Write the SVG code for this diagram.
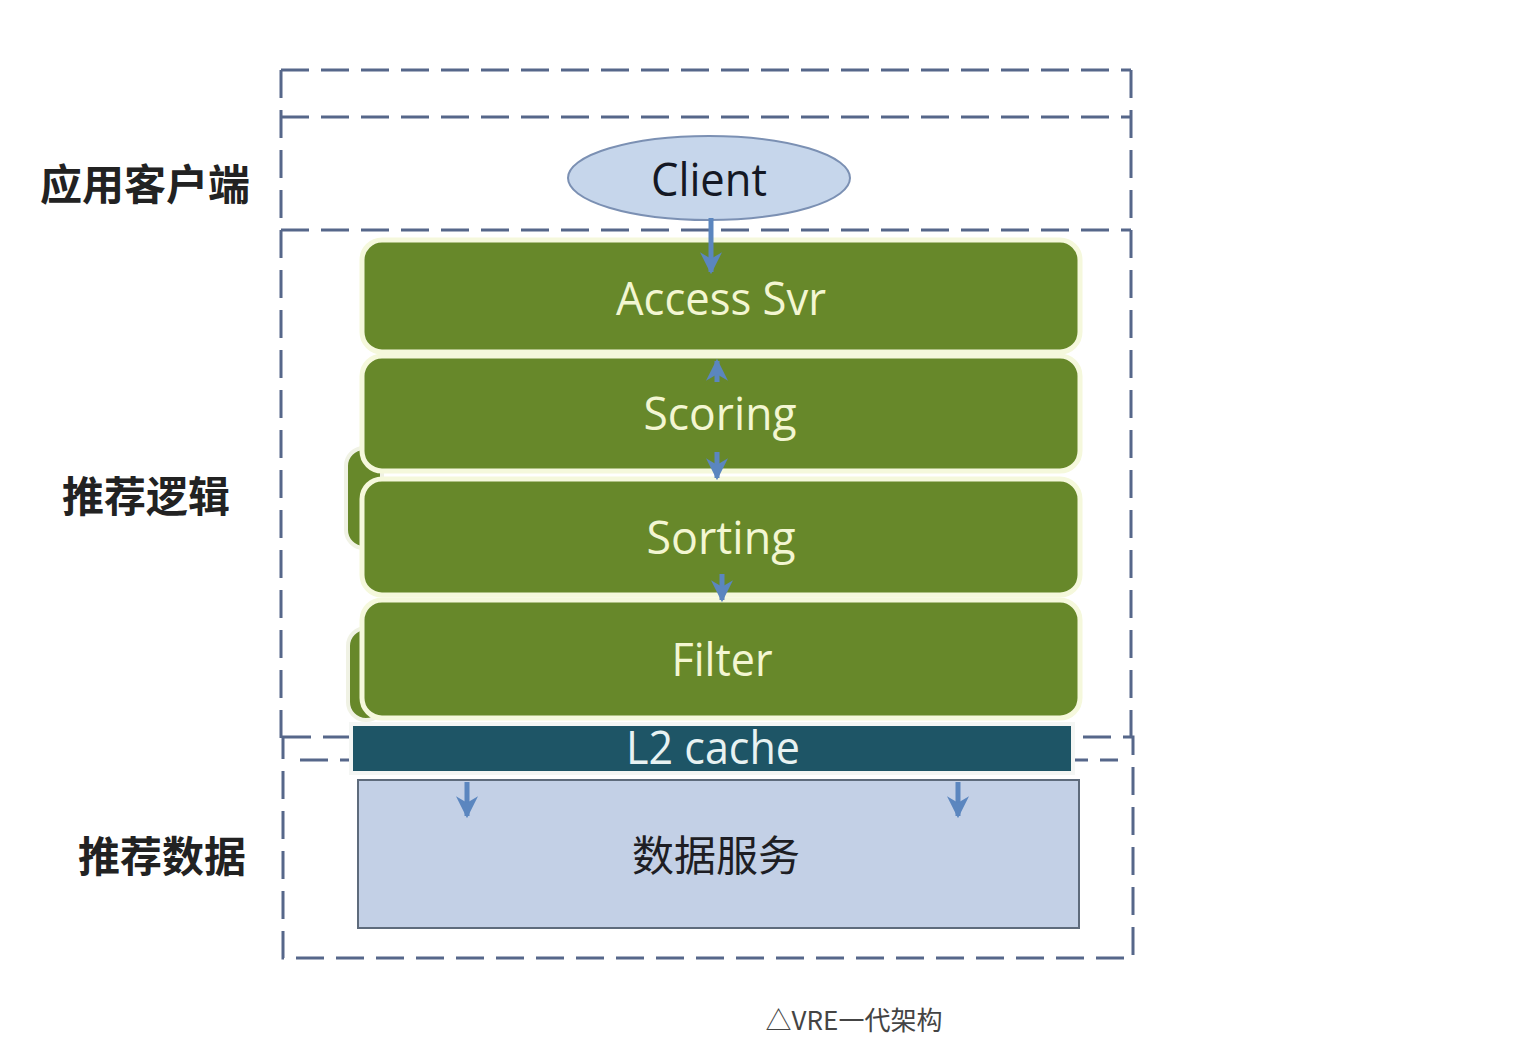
<svg xmlns="http://www.w3.org/2000/svg" width="1536" height="1060" viewBox="0 0 1536 1060">
<defs>
<marker id="ah" viewBox="0 0 10 10" refX="9" refY="5" markerWidth="4.4" markerHeight="4.4" orient="auto-start-reverse" markerUnits="strokeWidth">
<path d="M0,0 L10,5 L0,10 L3,5 Z" fill="#5b86bf"/>
</marker>
<style>
.dash{fill:none;stroke:#56678a;stroke-width:3;stroke-dasharray:28 12}
.green{fill:#67882a;stroke:#f5f8dc;stroke-width:5}
.gtxt{font-family:"Open Sans","Noto Sans",sans-serif;font-size:46px;fill:#f3f6d2;text-anchor:middle}
.lbl{font-family:"Noto Sans CJK SC",sans-serif;font-size:42px;font-weight:bold;fill:#222}
.arr{stroke:#5b86bf;stroke-width:5;fill:none}
</style>
</defs>
<rect width="1536" height="1060" fill="#ffffff"/>

<g id="frames">
<path class="dash" d="M281,70 H1131"/>
<path class="dash" d="M281,117 H1131"/>
<path class="dash" d="M281,230 H1131"/>
<path class="dash" d="M281,70 V740"/>
<path class="dash" d="M1131,70 V740"/>
<rect class="dash" x="283" y="737" width="850" height="221"/>
<path class="dash" d="M300,760 H1118"/>
</g>

<g id="labels">
<text class="lbl" x="40" y="200">应用客户端</text>
<text class="lbl" x="62" y="512">推荐逻辑</text>
<text class="lbl" x="78" y="872">推荐数据</text>
</g>

<g id="client">
<ellipse cx="709" cy="178" rx="141" ry="42" fill="#c6d6eb" stroke="#7b90b3" stroke-width="2"/>
<text x="709" y="196" font-family="Open Sans,Noto Sans,sans-serif" font-size="46" fill="#141824" text-anchor="middle" textLength="116" lengthAdjust="spacingAndGlyphs">Client</text>
</g>

<g id="back-shapes">
<rect x="346" y="448" width="36" height="100" rx="18" fill="#67882a" stroke="#f0f2e4" stroke-width="4"/>
<rect x="348" y="628" width="36" height="92" rx="18" fill="#67882a" stroke="#f0f2e4" stroke-width="4"/>
</g>

<g id="access">
<rect class="green" x="362" y="240" width="718" height="112" rx="20"/>
<text class="gtxt" x="721" y="315" textLength="210" lengthAdjust="spacingAndGlyphs">Access Svr</text>
</g>
<g id="scoring">
<rect class="green" x="362" y="356" width="718" height="115" rx="20"/>
<text class="gtxt" x="720" y="430" textLength="153" lengthAdjust="spacingAndGlyphs">Scoring</text>
</g>
<g id="sorting">
<rect class="green" x="362" y="479" width="718" height="116" rx="20"/>
<text class="gtxt" x="721" y="554" textLength="149" lengthAdjust="spacingAndGlyphs">Sorting</text>
</g>
<g id="filter">
<rect class="green" x="362" y="600" width="718" height="118" rx="20"/>
<text class="gtxt" x="722" y="676" textLength="101" lengthAdjust="spacingAndGlyphs">Filter</text>
</g>

<g id="l2cache">
<rect x="351" y="724" width="722" height="49" fill="#1e5566" stroke="#f4f6f4" stroke-width="4"/>
<text x="713" y="764" font-family="Open Sans,Noto Sans,sans-serif" font-size="46" fill="#e8f2f2" text-anchor="middle" textLength="174" lengthAdjust="spacingAndGlyphs">L2 cache</text>
</g>

<g id="data">
<rect x="358" y="780" width="721" height="148" fill="#c3d0e6" stroke="#5e6b7c" stroke-width="2"/>
<text x="716" y="871" font-family="Noto Sans CJK SC,sans-serif" font-size="42" fill="#1e1e24" text-anchor="middle">数据服务</text>
</g>

<g id="connectors">
<path class="arr" d="M711,218 V272" marker-end="url(#ah)"/>
<path class="arr" d="M717,382 V361" marker-end="url(#ah)"/>
<path class="arr" d="M717,452 V478" marker-end="url(#ah)"/>
<path class="arr" d="M722,574 V600" marker-end="url(#ah)"/>
<path class="arr" d="M467,782 V816" marker-end="url(#ah)"/>
<path class="arr" d="M958,782 V816" marker-end="url(#ah)"/>
</g>

<text x="854" y="1030" font-family="Noto Sans CJK SC,sans-serif" font-size="26" fill="#444" text-anchor="middle">△VRE一代架构</text>
</svg>
